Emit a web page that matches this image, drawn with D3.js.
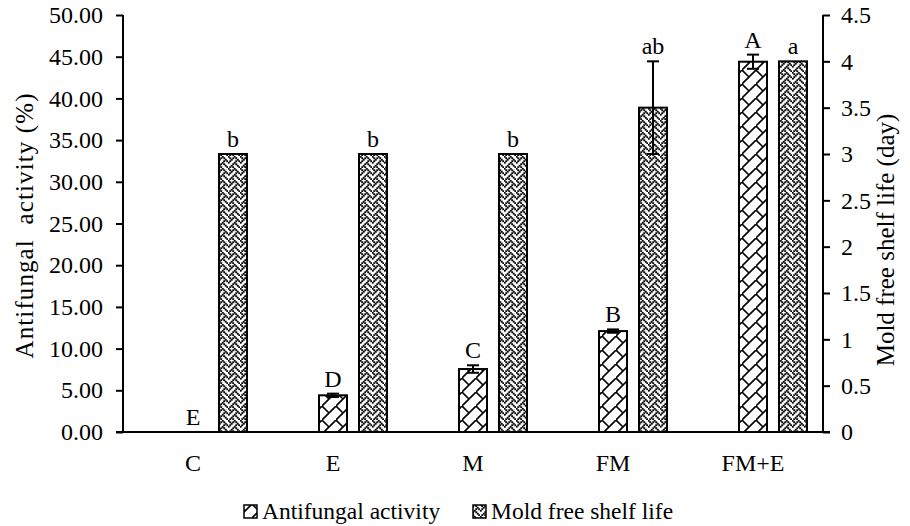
<!DOCTYPE html>
<html>
<head>
<meta charset="utf-8">
<script src="https://cdn.jsdelivr.net/npm/d3@7"></script>
<style>
  body { margin: 0; background: #fff; }
  svg { display: block; font-family: "Liberation Serif", "Times New Roman", serif; }
</style>
</head>
<body>
<svg id="chart" width="910" height="526"></svg>
<script>
// data
const categories = ['C', 'E', 'M', 'FM', 'FM+E'];
const antifungal = [0, 4.4, 7.55, 12.1, 44.4];
const antifungalErr = [0, 0.2, 0.45, 0.2, 0.85];
const antifungalLetters = ['E', 'D', 'C', 'B', 'A'];
const shelfLife = [3, 3, 3, 3.5, 4];
const shelfLifeErr = [0, 0, 0, 0.5, 0];
const shelfLetters = ['b', 'b', 'b', 'ab', 'a'];
const leftTicks = [0, 5, 10, 15, 20, 25, 30, 35, 40, 45, 50];
const rightTicks = [0, 0.5, 1, 1.5, 2, 2.5, 3, 3.5, 4, 4.5];

const svg = d3.select('#chart');
const plotL = 123, plotR = 823, plotT = 15, plotB = 432;
const barW = 28;

const x = d3.scaleBand().domain(categories).range([plotL, plotR]);
const yL = d3.scaleLinear().domain([0, 50]).range([plotB, plotT]);
const yR = d3.scaleLinear().domain([0, 4.5]).range([plotB, plotT]);

// hatch patterns
const defs = svg.append('defs');
const pA = defs.append('pattern')
  .attr('id', 'pAnti')
  .attr('patternUnits', 'userSpaceOnUse')
  .attr('width', 14).attr('height', 14);
pA.append('rect').attr('width', 14).attr('height', 14).attr('fill', '#fff');
pA.append('path')
  .attr('d', 'M-2,16 L16,-2 M0,0 L7,7')
  .attr('stroke', '#000').attr('stroke-width', 1.6).attr('fill', 'none');

// weave-like bitmap for the shelf life bars
const weave = [0x88, 0x54, 0x22, 0x45, 0x88, 0x14, 0x22, 0x51];
const cell = 1.5;
const pM = defs.append('pattern')
  .attr('id', 'pMold')
  .attr('patternUnits', 'userSpaceOnUse')
  .attr('width', 8 * cell).attr('height', 8 * cell);
pM.append('rect').attr('width', 8 * cell).attr('height', 8 * cell).attr('fill', '#fff');
weave.forEach((row, r) => {
  for (let c = 0; c < 8; c++) {
    if (row & (0x80 >> c)) {
      pM.append('rect')
        .attr('x', c * cell - 0.2).attr('y', r * cell - 0.2)
        .attr('width', cell + 0.4).attr('height', cell + 0.4)
        .attr('fill', '#000');
    }
  }
});

// axes
const fs = 24;
const axL = svg.append('g')
  .attr('transform', `translate(${plotL},0)`)
  .call(d3.axisLeft(yL).tickValues(leftTicks).tickFormat(d3.format('.2f')).tickSize(7).tickPadding(13));
const axR = svg.append('g')
  .attr('transform', `translate(${plotR},0)`)
  .call(d3.axisRight(yR).tickValues(rightTicks).tickFormat(d3.format('~g')).tickSize(7).tickPadding(11));
[axL, axR].forEach(g => {
  g.select('.domain').attr('stroke', '#000').attr('stroke-width', 2).attr('d', `M0,${plotB}V${plotT}`);
  g.selectAll('.tick line').attr('stroke', '#000').attr('stroke-width', 2);
  g.selectAll('.tick text').attr('font-size', fs).attr('fill', '#000')
    .attr('font-family', '"Liberation Serif", serif');
});

// baseline
svg.append('line')
  .attr('x1', plotL - 7).attr('x2', plotR + 7)
  .attr('y1', plotB).attr('y2', plotB)
  .attr('stroke', '#000').attr('stroke-width', 2);

const cx = d => x(d) + x.bandwidth() / 2;

// category labels
svg.append('g').selectAll('text')
  .data(categories)
  .join('text')
  .attr('x', d => cx(d))
  .attr('y', 471)
  .attr('text-anchor', 'middle')
  .attr('font-size', fs)
  .text(d => d);

// antifungal bars (left axis)
svg.append('g').selectAll('rect')
  .data(categories)
  .join('rect')
  .attr('x', d => cx(d) - barW / 2)
  .attr('y', (d, i) => yL(antifungal[i]))
  .attr('width', barW)
  .attr('height', (d, i) => plotB - yL(antifungal[i]))
  .attr('fill', 'url(#pAnti)')
  .attr('stroke', '#000').attr('stroke-width', 2)
  .style('display', (d, i) => antifungal[i] > 0 ? null : 'none');

// shelf life bars (right axis)
svg.append('g').selectAll('rect')
  .data(categories)
  .join('rect')
  .attr('x', d => cx(d) + 26)
  .attr('y', (d, i) => yR(shelfLife[i]))
  .attr('width', barW)
  .attr('height', (d, i) => plotB - yR(shelfLife[i]))
  .attr('fill', 'url(#pMold)')
  .attr('stroke', '#000').attr('stroke-width', 2);

// error bars
function errBars(vals, errs, y, dx) {
  const g = svg.append('g').attr('stroke', '#000').attr('stroke-width', 2);
  categories.forEach((c, i) => {
    if (!errs[i]) return;
    const xc = cx(c) + dx;
    const y1 = y(vals[i] - errs[i]), y2 = y(vals[i] + errs[i]);
    g.append('line').attr('x1', xc).attr('x2', xc).attr('y1', y1).attr('y2', y2);
    g.append('line').attr('x1', xc - 6).attr('x2', xc + 6).attr('y1', y1).attr('y2', y1);
    g.append('line').attr('x1', xc - 6).attr('x2', xc + 6).attr('y1', y2).attr('y2', y2);
  });
}
errBars(antifungal, antifungalErr, yL, 0);
errBars(shelfLife, shelfLifeErr, yR, 26 + barW / 2);

// significance letters
svg.append('g').selectAll('text')
  .data(categories)
  .join('text')
  .attr('x', d => cx(d))
  .attr('y', (d, i) => yL(antifungal[i] + antifungalErr[i]) - 7)
  .attr('text-anchor', 'middle')
  .attr('font-size', fs)
  .text((d, i) => antifungalLetters[i]);
svg.append('g').selectAll('text')
  .data(categories)
  .join('text')
  .attr('x', d => cx(d) + 26 + barW / 2)
  .attr('y', (d, i) => yR(shelfLife[i] + shelfLifeErr[i]) - 7)
  .attr('text-anchor', 'middle')
  .attr('font-size', fs)
  .text((d, i) => shelfLetters[i]);

// axis titles
svg.append('text')
  .attr('transform', 'translate(33,226) rotate(-90)')
  .attr('text-anchor', 'middle')
  .attr('font-size', 25)
  .attr('textLength', 265)
  .attr('lengthAdjust', 'spacing')
  .attr('xml:space', 'preserve')
  .text('Antifungal  activity (%)');
svg.append('text')
  .attr('transform', 'translate(894,240) rotate(-90)')
  .attr('text-anchor', 'middle')
  .attr('font-size', 25)
  .text('Mold free shelf life (day)');

// legend
const legendItems = [
  { label: 'Antifungal activity', fill: 'url(#pAnti)', x: 244 },
  { label: 'Mold free shelf life', fill: 'url(#pMold)', x: 473 }
];
const lg = svg.append('g');
legendItems.forEach(it => {
  lg.append('rect')
    .attr('x', it.x).attr('y', 505)
    .attr('width', 13).attr('height', 13)
    .attr('fill', it.fill)
    .attr('stroke', '#000').attr('stroke-width', 1.5);
  lg.append('text')
    .attr('x', it.x + 18).attr('y', 519)
    .attr('font-size', 23.5)
    .text(it.label);
});
</script>
</body>
</html>
